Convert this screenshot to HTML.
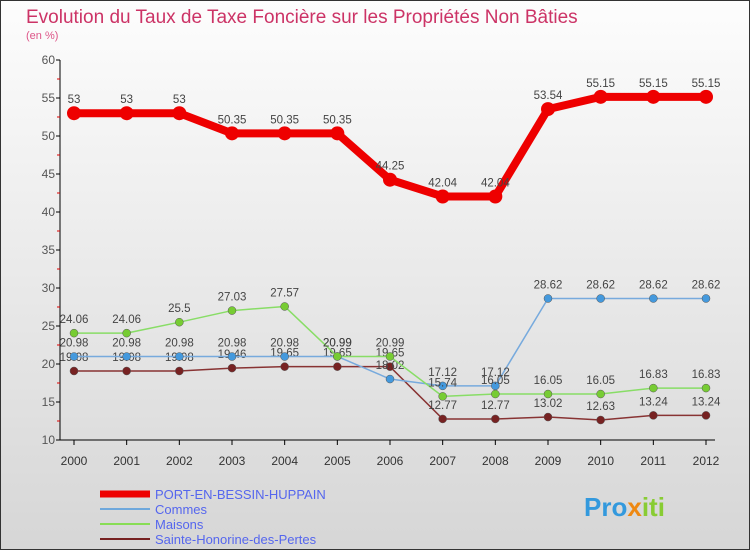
<!DOCTYPE html>
<html><head><meta charset="utf-8"><style>
body{margin:0;width:750px;height:550px;overflow:hidden;font-family:"Liberation Sans",sans-serif}
</style></head><body>
<svg id="c" width="750" height="550" xmlns="http://www.w3.org/2000/svg" font-family="Liberation Sans, sans-serif">
<defs><linearGradient id="bg" x1="0" y1="0" x2="0" y2="1"><stop offset="0" stop-color="#fdfdfd"/><stop offset="1" stop-color="#d6d6d6"/></linearGradient></defs>
<rect x="0.5" y="0.5" width="749" height="549" fill="url(#bg)" stroke="#333"/>
<text x="26" y="23" font-size="19" fill="#cc3366">Evolution du Taux de Taxe Foncière sur les Propriétés Non Bâties</text>
<text x="26" y="39" font-size="11" fill="#dd5588">(en %)</text>
<g id="axes"></g><g id="series"></g>
<g>
<line x1="100" y1="494" x2="150" y2="494" stroke="#e00" stroke-width="7"/><text x="155" y="499" font-size="13" fill="#5566ee">PORT-EN-BESSIN-HUPPAIN</text>
<line x1="100" y1="509" x2="150" y2="509" stroke="#6fa8dc" stroke-width="2"/><text x="155" y="514" font-size="13" fill="#5566ee">Commes</text>
<line x1="100" y1="524" x2="150" y2="524" stroke="#88dd55" stroke-width="2"/><text x="155" y="529" font-size="13" fill="#5566ee">Maisons</text>
<line x1="100" y1="539" x2="150" y2="539" stroke="#772222" stroke-width="2"/><text x="155" y="544" font-size="13" fill="#5566ee">Sainte-Honorine-des-Pertes</text>
</g>
<text x="584" y="516" font-size="26" font-weight="bold" fill="#3399dd">Pro<tspan fill="#ee8811">x</tspan><tspan fill="#88cc33">iti</tspan></text>
</svg>
<script>
const years=[2000,2001,2002,2003,2004,2005,2006,2007,2008,2009,2010,2011,2012];
const port=[53,53,53,50.35,50.35,50.35,44.25,42.04,42.04,53.54,55.15,55.15,55.15];
const commes=[20.98,20.98,20.98,20.98,20.98,20.99,18.02,17.12,17.12,28.62,28.62,28.62,28.62];
const maisons=[24.06,24.06,25.5,27.03,27.57,20.99,20.99,15.74,16.05,16.05,16.05,16.83,16.83];
const sainte=[19.08,19.08,19.08,19.46,19.65,19.65,19.65,12.77,12.77,13.02,12.63,13.24,13.24];
const yTicks=[10,15,20,25,30,35,40,45,50,55,60];
const NS="http://www.w3.org/2000/svg";
const X=i=>74+i*(632/12), Y=v=>440-(v-10)*7.6;
function mk(t,a,p){const e=document.createElementNS(NS,t);for(const k in a)e.setAttribute(k,a[k]);p.appendChild(e);return e;}
const ax=document.getElementById('axes'), sg=document.getElementById('series');
const yl=mk('line',{x1:60,y1:Y(60),x2:60,y2:Y(10),stroke:'#000'},ax);


yTicks.forEach(v=>{mk('line',{x1:56,y1:Y(v),x2:60,y2:Y(v),stroke:'#000'},ax);
 if(v<60)mk('line',{x1:57,y1:Y(v+2.5),x2:60,y2:Y(v+2.5),stroke:'#d00'},ax);
 const t=mk('text',{x:55,y:Y(v)+4,'font-size':12,'text-anchor':'end',fill:'#555'},ax);t.textContent=v;
 
 });
const xl=mk('line',{x1:60,y1:Y(10),x2:715,y2:Y(10),stroke:'#000'},ax);


years.forEach((y,i)=>{mk('line',{x1:X(i),y1:440,x2:X(i),y2:445,stroke:'#000'},ax);
 const t=mk('text',{x:X(i),y:465,'font-size':12,'text-anchor':'middle',fill:'#333'},ax);t.textContent=y;
 
 });
function series(d,col,w,r,name,dot){
 const g=mk('g',{},sg);
 
 
 mk('polyline',{points:d.map((v,i)=>X(i)+','+Y(v)).join(' '),fill:'none',stroke:col,'stroke-width':w,'stroke-linejoin':'round'},g);
 d.forEach((v,i)=>{mk('circle',{cx:X(i),cy:Y(v),r:r,fill:dot||col,stroke:'#555','stroke-width':dot?0.5:0},g);
  const t=mk('text',{x:X(i),y:Y(v)-10,'font-size':11.5,'text-anchor':'middle',fill:'#444'},g);t.textContent=v;
  
  });
}
series(sainte,'#883333',1.5,4,'series-sainte-honorine','#772222');
series(commes,'#77aadd',1.5,4,'series-commes','#4499dd');
series(maisons,'#88dd66',1.5,4,'series-maisons','#77cc33');
series(port,'#ee0000',8,7,'series-port-en-bessin');
</script>
</body></html>
